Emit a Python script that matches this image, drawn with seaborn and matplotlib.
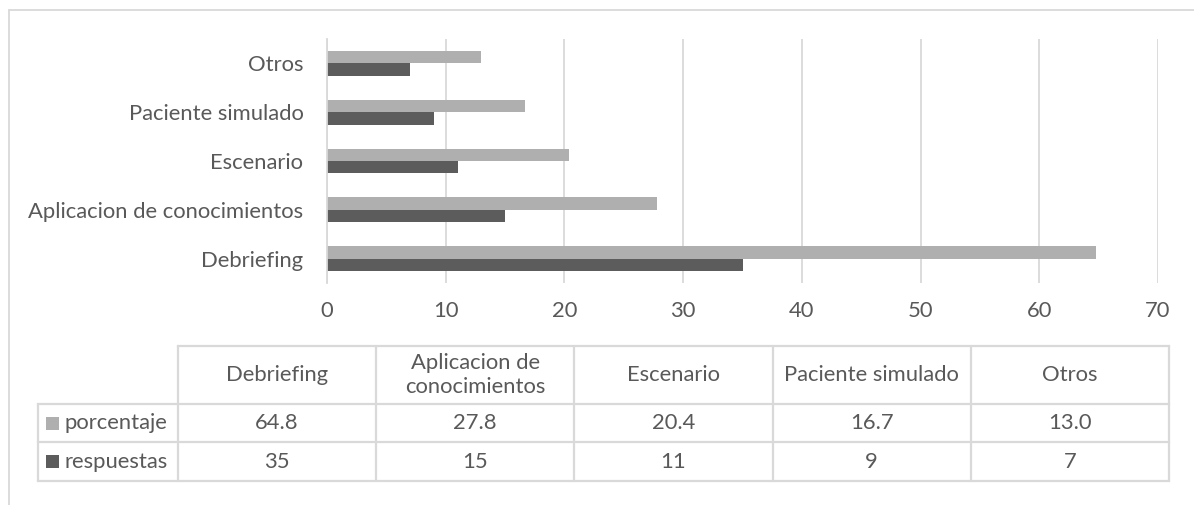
import numpy as np
import pandas as pd
import matplotlib
matplotlib.use("Agg")
import matplotlib.pyplot as plt
from matplotlib.lines import Line2D
from matplotlib.patches import Rectangle
import seaborn as sns

# Data
categorias = ["Debriefing", "Aplicacion de conocimientos", "Escenario",
              "Paciente simulado", "Otros"]
encabezados_tabla = ["Debriefing", "Aplicacion de\nconocimientos", "Escenario",
                     "Paciente simulado", "Otros"]
porcentaje = [64.8, 27.8, 20.4, 16.7, 13.0]
respuestas = [35, 15, 11, 9, 7]
series = ["porcentaje", "respuestas"]
ticks_x = [0, 10, 20, 30, 40, 50, 60, 70]

COL_CLARO = "#AFAFAF"
COL_OSCURO = "#5C5C5C"
COL_TEXTO = "#595959"
COL_LINEA = "#D9D9D9"
FUENTE = "Lato"
TAM = 15.8

sns.set_theme(style="white")
plt.rcParams["font.family"] = [FUENTE, "DejaVu Sans"]

df = pd.DataFrame({
    "categoria": categorias * 2,
    "valor": porcentaje + respuestas,
    "serie": [series[0]] * len(categorias) + [series[1]] * len(categorias),
})

W, H = 1194, 505
fig = plt.figure(figsize=(W / 100, H / 100), dpi=100)
fig.patch.set_facecolor("white")

# Outer chart frame (top and left edges)
fig.add_artist(Line2D([9 / W, 1], [1 - 10 / H, 1 - 10 / H], color=COL_LINEA,
                      lw=1.3, transform=fig.transFigure))
fig.add_artist(Line2D([9 / W, 9 / W], [0, 1 - 10 / H], color=COL_LINEA,
                      lw=1.3, transform=fig.transFigure))

# Bar chart
ax = fig.add_axes([327 / W, 1 - 283 / H, (1158 - 327) / W, (283 - 39) / H])
orden = categorias[::-1]
sns.barplot(data=df, y="categoria", x="valor", hue="serie", order=orden,
            hue_order=series, palette=[COL_CLARO, COL_OSCURO], width=0.51,
            orient="h", ax=ax, saturation=1, linewidth=0)
if ax.legend_ is not None:
    ax.legend_.remove()

ax.set_xlim(0, 70)
ax.set_ylim(len(orden) - 0.5, -0.5)
ax.set_xticks(ticks_x)
ax.set_xticklabels([str(t) for t in ticks_x])
ax.set_xlabel("")
ax.set_ylabel("")
ax.set_yticks(np.arange(-0.5, len(orden), 1), minor=True)
ax.tick_params(axis="y", which="major", length=0, pad=17, labelsize=TAM,
               labelcolor=COL_TEXTO)
ax.tick_params(axis="y", which="minor", length=6, width=1.3, color=COL_LINEA)
ax.tick_params(axis="x", which="major", length=0, pad=13, labelsize=TAM,
               labelcolor=COL_TEXTO)
for s in ["top", "right", "bottom"]:
    ax.spines[s].set_visible(False)
ax.spines["left"].set_color(COL_LINEA)
ax.spines["left"].set_linewidth(1.3)
ax.xaxis.grid(True, color=COL_LINEA, lw=1.3)
ax.yaxis.grid(False)
ax.set_axisbelow(True)
ax.set_facecolor("none")

# Data table below the chart
n = len(categorias)
col_px = (1169 - 178) / n
lab_w = (178 - 38) / col_px
tx = fig.add_axes([38 / W, 1 - 481 / H, (1169 - 38) / W, (481 - 346) / H])
tx.set_xlim(-lab_w, n)
tx.set_ylim(0, 3.5)
tx.axis("off")

lw_t = 1.6
for y in [0, 1, 2]:
    tx.plot([-lab_w, n], [y, y], color=COL_LINEA, lw=lw_t, clip_on=False,
            solid_capstyle="projecting")
tx.plot([0, n], [3.5, 3.5], color=COL_LINEA, lw=lw_t, clip_on=False,
        solid_capstyle="projecting")
tx.plot([-lab_w, -lab_w], [0, 2], color=COL_LINEA, lw=lw_t, clip_on=False)
for x in range(n + 1):
    tx.plot([x, x], [0, 3.5], color=COL_LINEA, lw=lw_t, clip_on=False)

for i, h in enumerate(encabezados_tabla):
    tx.text(i + 0.5, 2.75, h, ha="center", va="center", fontsize=TAM,
            color=COL_TEXTO, linespacing=1.25)
filas = [(porcentaje, "{:.1f}", 1.5), (respuestas, "{:d}", 0.5)]
for vals, fmt, yc in filas:
    for i, v in enumerate(vals):
        tx.text(i + 0.5, yc, fmt.format(v), ha="center", va="center",
                fontsize=TAM, color=COL_TEXTO)

sq_w = 13 / col_px
sq_h = 13 / 38.5
for nombre, color, yc in [(series[0], COL_CLARO, 1.5), (series[1], COL_OSCURO, 0.5)]:
    tx.add_patch(Rectangle((-lab_w + 8 / col_px, yc - sq_h / 2), sq_w, sq_h,
                           color=color, lw=0, clip_on=False))
    tx.text(-lab_w + 27 / col_px, yc, nombre, ha="left", va="center",
            fontsize=TAM, color=COL_TEXTO)

fig.savefig("out.png", dpi=100, facecolor="white")
